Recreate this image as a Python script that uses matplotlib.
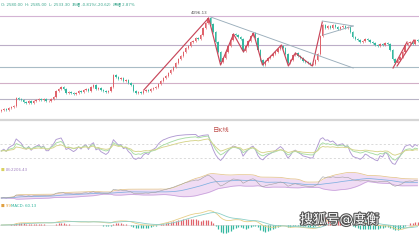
import matplotlib
matplotlib.use("Agg")
import matplotlib.pyplot as plt
import matplotlib.patheffects as pe
from matplotlib.lines import Line2D
import numpy as np

plt.rcParams['font.family'] = ['DejaVu Sans', 'Noto Sans CJK SC']

# Daily closes (chart units)
closes = [8, 9, 8, 10, 11, 12, 20, 19, 18, 16, 15, 17, 15, 17, 18, 19, 18, 19, 17, 17,
          19, 21, 27, 29, 31, 29, 25, 26, 25, 24, 25, 27, 26, 28, 29, 27, 31, 33, 29, 30,
          28, 27, 26, 27, 31, 43, 41, 39, 40, 37, 38, 35, 33, 27, 25, 26, 25, 27, 28, 27,
          29, 30, 31, 34, 37, 40, 42, 45, 48, 51, 55, 59, 62, 66, 70, 72, 76, 77, 80, 79,
          83, 90, 95, 100, 94, 86, 76, 66, 56, 60, 66, 72, 78, 84, 83, 81, 79, 67, 72, 77,
          82, 85, 80, 68, 58, 53, 57, 60, 62, 64, 66, 69, 72, 70, 64, 55, 58, 63, 65, 62,
          60, 57, 56, 55, 54, 54, 58, 64, 82, 93, 90, 92, 90, 93, 91, 89, 91, 92, 90, 91,
          86, 81, 79, 78, 76, 77, 79, 78, 76, 75, 73, 72, 74, 73, 75, 74, 68, 59, 55, 58,
          61, 66, 73, 75, 76, 74, 78, 77]

# Support / resistance levels
levels = [102, 73, 51, 35, 19]
level_colors = ['#d4b4d4', '#bcaec8', '#a9bcc6', '#d2b0c8', '#b8b4c6']

# Hand-drawn annotations (index, value)
zigzag_x = [57.2, 83.2, 88.0, 93.2, 97.2, 101.2, 104.8, 112.4, 115.2, 118.0, 124.8, 128.8]
zigzag_y = [28, 100, 53, 84, 66, 85, 53, 73, 52, 65, 52, 96]
right_legs = [([157.2, 162.8], [50, 76]), ([158.8, 165.6], [52, 78])]
trend_lines = [([84.0, 141.2], [101, 50]),
               ([128.8, 141.2], [97, 92]),
               ([129.2, 141.2], [83, 92])]
peak_label = "4096.13"
header = "O: 2580.00  H: 2585.00  L: 2533.30  涨幅 -0.81%(-20.62)  振幅 2.87%"

UP = '#e0626a'
DOWN = '#35b8a0'

c = np.array(closes, dtype=float)
o = np.r_[c[0] - 1, c[:-1]]
n = len(c)
idx = np.arange(n)
hi = np.maximum(o, c) + 1.2
lo = np.minimum(o, c) - 1.2
cols = [UP if c[i] >= o[i] else DOWN for i in range(n)]


def ema(x, p):
	out = np.zeros_like(x)
	out[0] = x[0]
	a = 2.0 / (p + 1)
	for i in range(1, len(x)):
		out[i] = a * x[i] + (1 - a) * out[i - 1]
	return out


def rsi(x, p):
	d = np.diff(x, prepend=x[0])
	up = np.where(d > 0, d, 0.0)
	dn = np.where(d < 0, -d, 0.0)
	out = np.zeros_like(x)
	au, ad = 1.0, 1.0
	for i in range(len(x)):
		au = (au * (p - 1) + up[i]) / p
		ad = (ad * (p - 1) + dn[i]) / p
		out[i] = 100 * au / (au + ad)
	return out


fig = plt.figure(figsize=(4.19, 2.40), dpi=100)
fig.patch.set_facecolor('white')

# ---------------- main price panel
ax = fig.add_axes([0, 1 - 118 / 240, 1, 118 / 240])
ax.set_xlim(-0.5, n - 0.4)
ax.set_ylim(0, 118)
for lv, lc in zip(levels, level_colors):
	ax.axhline(lv, color=lc, lw=0.8, zorder=1)
ax.vlines(idx, lo, hi, colors=cols, lw=0.45, zorder=2)
ax.bar(idx, np.maximum(np.abs(c - o), 0.4), bottom=np.minimum(o, c),
       width=0.55, color=cols, zorder=3, linewidth=0)
ax.plot(zigzag_x, zigzag_y, color='#c8465a', lw=0.85, zorder=4)
for xs, ys in right_legs:
	ax.plot(xs, ys, color='#c8465a', lw=0.85, zorder=4)
for xs, ys in trend_lines:
	ax.plot(xs, ys, color='#9aaebb', lw=0.65, zorder=4)
ax.text(82.6, 102.5, peak_label, fontsize=3, color='#555555', ha='right', va='bottom')
ax.text(0, 116, header, fontsize=2.8, color='#3aa58c', ha='left', va='top')
ax.axis('off')

fig.add_artist(Line2D([0, 1], [1 - 120 / 240] * 2, color='#d6d6d6', lw=1.6))
fig.text(213 / 419, 1 - 131 / 240, "日K线", fontsize=4.5, color='#c0504d', va='center')

# ---------------- RSI panel
ax2 = fig.add_axes([0, 1 - 168 / 240, 1, 34 / 240])
ax2.set_xlim(-0.5, n - 0.4)
ax2.set_ylim(0, 100)
for lv in (70, 30):
	ax2.axhline(lv, color='#cccccc', lw=0.5, ls=(0, (3, 3)))
ax2.plot(idx, rsi(c, 6), color='#b09ad2', lw=0.65)
ax2.plot(idx, rsi(c, 12), color='#a8dca4', lw=0.65)
ax2.plot(idx, rsi(c, 24), color='#d6d48a', lw=0.65)
ax2.axis('off')

fig.text(1 / 419, 1 - 170 / 240, "■", fontsize=2.8, color='#d8d060', va='center')
fig.text(6 / 419, 1 - 170 / 240, "LB:2206.43", fontsize=2.8, color='#a080c0', va='center')

# ---------------- Bollinger panel
ax3 = fig.add_axes([0, 1 - 202 / 240, 1, 30 / 240])
ax3.set_xlim(-0.5, n - 0.4)
ax3.set_ylim(-8, 112)
mid = np.array([c[max(0, i - 19):i + 1].mean() for i in range(n)])
sd = np.array([c[max(0, i - 19):i + 1].std() for i in range(n)])
ax3.fill_between(idx, mid - 2 * sd, mid + 2 * sd, color='#f0dcf4', lw=0)
ax3.plot(idx, mid + 2 * sd, color='#e4c48c', lw=0.55)
ax3.plot(idx, mid - 2 * sd, color='#c8a0dc', lw=0.55)
ax3.plot(idx, mid, color='#7fb0e0', lw=0.55)
ax3.plot(idx, c, color='#a0a0a0', lw=0.4)
ax3.axis('off')

fig.text(1 / 419, 1 - 206 / 240, "■ 99", fontsize=2.8, color='#e0a040', va='center')
fig.text(11 / 419, 1 - 206 / 240, "MACD: 60.13", fontsize=2.8, color='#2bb39b', va='center')

# ---------------- MACD panel
ax4 = fig.add_axes([0, 1 - 238 / 240, 1, 28 / 240])
ax4.set_xlim(-0.5, n - 0.4)
dif = ema(c, 12) - ema(c, 26)
dea = ema(dif, 9)
hist = 2 * (dif - dea)
top = max(np.abs(dif).max(), np.abs(hist).max()) * 1.05
ax4.set_ylim(-top * 13 / 15, top)
ax4.axhline(0, color='#d0d0d0', lw=0.4)
ax4.vlines(idx, 0, hist, colors=[UP if h >= 0 else DOWN for h in hist], lw=0.9)
ax4.plot(idx, dif, color='#e6cf88', lw=0.6)
ax4.plot(idx, dea, color='#8ccfc8', lw=0.6)
ax4.axis('off')

fig.text(300 / 419, 1 - 220 / 240, "搜狐号@度衡", fontsize=9.5, color='white', va='center',
         path_effects=[pe.withStroke(linewidth=1.6, foreground='#555555')])

fig.savefig('out.png', dpi=100)
